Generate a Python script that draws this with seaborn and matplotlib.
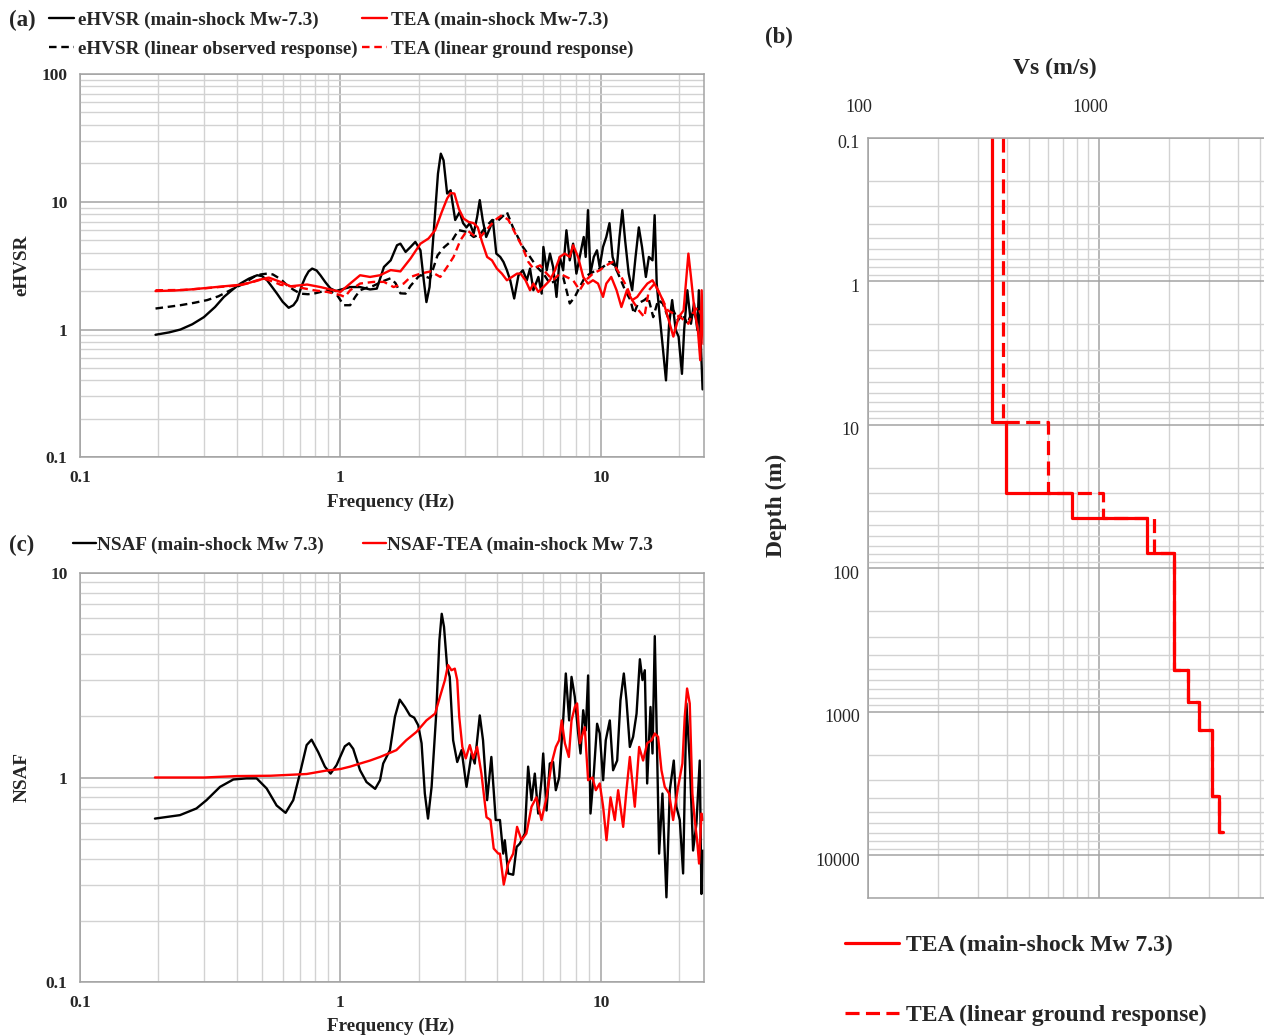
import numpy as np
import matplotlib
matplotlib.use("Agg")
import matplotlib.pyplot as plt
import seaborn as sns
from matplotlib.ticker import FixedLocator, FixedFormatter, LogLocator, NullFormatter
from matplotlib.lines import Line2D
from matplotlib.transforms import ScaledTranslation

# ---------------- (a) spectral ratios ----------------
freq_ehvsr_main = [0.195, 0.22, 0.243, 0.27, 0.299, 0.33, 0.357, 0.385, 0.413, 0.445,
                   0.479, 0.50, 0.523, 0.547, 0.571, 0.60, 0.633, 0.66, 0.682, 0.71,
                   0.734, 0.755, 0.779, 0.81, 0.838, 0.875, 0.915, 0.96, 1.0, 1.09,
                   1.19, 1.30, 1.38, 1.47, 1.56, 1.65, 1.70, 1.78, 1.86, 1.94,
                   2.03, 2.09, 2.14, 2.20, 2.28, 2.37, 2.43, 2.49, 2.57, 2.65,
                   2.76, 2.87, 2.96, 3.05, 3.14, 3.25, 3.35, 3.43, 3.52, 3.63,
                   3.76, 3.85, 3.97, 4.11, 4.23, 4.36, 4.49, 4.65, 4.83, 5.02,
                   5.20, 5.35, 5.51, 5.76, 5.93, 6.02, 6.20, 6.38, 6.56, 6.76,
                   6.96, 7.17, 7.38, 7.60, 7.83, 8.06, 8.30, 8.60, 8.75, 8.93,
                   9.12, 9.40, 9.67, 9.90, 10.2, 10.5, 10.8, 11.1, 11.5, 11.8,
                   12.1, 12.4, 12.8, 13.2, 13.6, 14.0, 14.4, 14.9, 15.3, 15.8,
                   16.1, 16.4, 16.8, 17.3, 17.8, 18.3, 18.8, 19.4, 19.9, 20.5,
                   20.9, 21.5, 22.2, 22.8, 23.5, 23.8, 24.6]
ehvsr_main = [0.91, 0.95, 1.00, 1.10, 1.25, 1.50, 1.80, 2.05, 2.29, 2.50,
              2.66, 2.62, 2.43, 2.15, 1.91, 1.65, 1.48, 1.55, 1.70, 2.20,
              2.58, 2.85, 3.00, 2.90, 2.66, 2.35, 2.10, 2.00, 2.05, 2.15,
              2.15, 2.06, 2.09, 3.09, 3.48, 4.57, 4.70, 4.05, 4.43, 4.85,
              4.17, 2.43, 1.64, 2.15, 5.64, 16.6, 23.8, 21.1, 11.6, 12.3,
              7.2, 8.3, 6.8, 6.3, 6.8, 5.64, 7.6, 10.3, 7.2, 5.3,
              6.3, 7.2, 3.93, 3.70, 3.38, 2.91, 2.43, 1.75, 2.66, 2.91,
              2.43, 3.00, 2.03, 2.58, 1.91, 4.43, 2.91, 3.93, 3.09, 1.80,
              3.70, 2.91, 5.98, 3.48, 4.70, 2.74, 3.70, 5.30, 3.70, 8.60,
              2.74, 3.70, 4.17, 3.09, 4.43, 5.30, 6.80, 3.70, 2.91, 5.30,
              8.60, 5.00, 2.74, 2.03, 3.70, 6.30, 4.43, 2.58, 3.70, 3.48,
              7.85, 2.29, 1.33, 0.73, 0.40, 1.11, 1.70, 0.99, 0.88, 0.45,
              0.99, 2.03, 1.11, 1.60, 0.99, 2.03, 0.34]

freq_ehvsr_linear = [0.195, 0.243, 0.275, 0.308, 0.34, 0.367, 0.39, 0.413, 0.44, 0.465,
                     0.495, 0.523, 0.55, 0.571, 0.60, 0.624, 0.66, 0.702, 0.75, 0.79,
                     0.84, 0.889, 0.93, 0.971, 1.03, 1.09, 1.14, 1.19, 1.26, 1.34,
                     1.45, 1.56, 1.63, 1.70, 1.78, 1.86, 1.99, 2.03, 2.12, 2.21,
                     2.36, 2.50, 2.69, 2.84, 3.07, 3.25, 3.45, 3.65, 3.83, 4.0,
                     4.23, 4.36, 4.6, 5.02, 5.35, 5.68, 6.02, 6.38, 6.76, 7.17,
                     7.6, 7.95, 8.3, 8.7, 9.1, 9.6, 10.2, 10.8, 11.3, 11.8,
                     12.4, 13.0, 13.4, 13.9, 14.7, 15.2, 15.9, 16.6, 17.3, 18.1,
                     19.0, 19.8, 20.6, 21.5, 22.5, 23.5, 24.6]
ehvsr_linear = [1.46, 1.55, 1.62, 1.70, 1.82, 1.97, 2.10, 2.22, 2.40, 2.58,
                2.70, 2.74, 2.70, 2.58, 2.40, 2.22, 2.05, 1.91, 1.89, 1.91,
                1.97, 2.03, 1.96, 1.86, 1.55, 1.55, 1.80, 2.03, 2.12, 2.20,
                2.38, 2.52, 2.30, 1.92, 1.91, 2.2, 2.58, 2.66, 2.60, 2.52,
                3.80, 4.4, 5.0, 6.0, 5.8, 5.3, 5.6, 6.5, 7.2, 7.0,
                7.8, 8.3, 6.3, 4.43, 3.70, 3.09, 2.74, 2.29, 2.43, 2.58,
                1.60, 1.80, 2.15, 2.58, 2.74, 2.91, 3.09, 3.38, 3.18, 2.58,
                2.03, 1.70, 1.33, 1.60, 1.70, 1.80, 1.25, 1.70, 1.60, 1.25,
                1.41, 1.18, 1.33, 1.11, 1.41, 1.18, 1.25]

freq_tea_main = [0.195, 0.23, 0.266, 0.31, 0.357, 0.413, 0.45, 0.479, 0.531, 0.56,
                 0.589, 0.643, 0.70, 0.745, 0.838, 0.943, 1.0, 1.09, 1.19, 1.30,
                 1.42, 1.56, 1.70, 1.86, 2.03, 2.18, 2.31, 2.45, 2.57, 2.65,
                 2.74, 2.85, 2.97, 3.11, 3.25, 3.37, 3.50, 3.66, 3.82, 3.99,
                 4.17, 4.36, 4.56, 4.77, 4.92, 5.14, 5.35, 5.51, 5.76, 6.02,
                 6.38, 6.67, 6.96, 7.27, 7.60, 7.83, 8.18, 8.56, 8.93, 9.33,
                 9.76, 10.2, 10.5, 10.97, 11.5, 12.0, 12.6, 13.2, 13.8, 14.4,
                 15.1, 15.8, 16.6, 17.3, 18.1, 19.0, 19.9, 20.8, 21.7, 22.2,
                 22.9, 23.6, 24.1, 24.4, 24.8]
tea_main = [2.00, 2.02, 2.06, 2.12, 2.18, 2.24, 2.33, 2.43, 2.55, 2.45,
            2.36, 2.18, 2.22, 2.25, 2.15, 2.03, 1.97, 2.29, 2.66, 2.58,
            2.66, 2.92, 2.85, 3.60, 4.70, 5.16, 5.98, 8.30, 10.6, 11.7,
            11.6, 8.80, 7.40, 6.95, 6.80, 6.30, 4.85, 3.70, 3.48, 3.00,
            2.74, 2.43, 2.58, 2.74, 2.74, 2.43, 2.03, 2.29, 1.97, 2.15,
            2.43, 2.91, 3.70, 3.93, 3.70, 4.57, 3.70, 2.58, 2.29, 2.43,
            2.29, 1.80, 2.29, 2.58, 2.03, 1.50, 2.03, 1.70, 1.80, 2.03,
            2.29, 2.43, 2.03, 1.70, 1.25, 0.88, 1.25, 1.41, 3.93, 2.58,
            1.41, 0.99, 0.575, 2.03, 0.77]

freq_tea_linear = [0.195, 0.25, 0.30, 0.35, 0.413, 0.46, 0.508, 0.55, 0.589, 0.682,
                   0.79, 0.889, 1.0, 1.04, 1.09, 1.19, 1.34, 1.47, 1.60, 1.75,
                   1.86, 2.03, 2.22, 2.42, 2.57, 2.72, 2.89, 3.07, 3.25, 3.45,
                   3.71, 3.93, 4.17, 4.42, 4.63, 4.77, 5.0, 5.27, 5.51, 5.85,
                   6.2, 6.56, 6.96, 7.38, 7.83, 8.3, 8.75, 9.33, 9.9, 10.5,
                   11.1, 11.8, 12.6, 13.2, 14.0, 14.7, 15.3, 16.1, 16.8, 18.1,
                   19.1, 20.2, 21.7, 22.5, 23.6, 24.2, 24.8]
tea_linear = [2.03, 2.04, 2.10, 2.16, 2.22, 2.35, 2.50, 2.38, 2.24, 2.15,
              2.03, 1.97, 1.86, 1.80, 2.03, 2.29, 2.36, 2.36, 2.15, 2.29,
              2.58, 2.74, 2.85, 2.58, 3.09, 3.70, 5.00, 5.98, 5.46, 5.30,
              6.30, 7.20, 7.85, 7.20, 5.98, 5.30, 4.43, 3.38, 3.00, 3.18,
              2.74, 2.43, 2.74, 2.58, 2.43, 2.03, 2.43, 2.74, 2.91, 3.18,
              3.38, 2.74, 2.15, 1.70, 1.41, 1.25, 2.03, 2.29, 1.91, 1.41,
              1.33, 1.25, 1.11, 1.33, 1.50, 1.33, 1.18]

# ---------------- (b) shear-wave velocity profile ----------------
layer_top_depth = [0.1, 9.5, 30, 45, 78, 512, 860, 1343, 3865, 6920]
vs_tea_main = [345, 395, 762, 1607, 2118, 2427, 2702, 3083, 3320, 3450]
vs_tea_linear = [384, 603, 1045, 1730, 2118, 2427, 2702, 3083, 3320, 3450]

# ---------------- (c) site amplification ----------------
freq_nsaf = [0.194, 0.242, 0.28, 0.306, 0.345, 0.388, 0.436, 0.477, 0.521, 0.569,
             0.616, 0.659, 0.699, 0.742, 0.775, 0.822, 0.872, 0.917, 0.967, 1.04,
             1.08, 1.12, 1.19, 1.26, 1.36, 1.42, 1.46, 1.55, 1.62, 1.69,
             1.77, 1.85, 1.92, 1.99, 2.05, 2.11, 2.17, 2.24, 2.33, 2.40,
             2.45, 2.50, 2.57, 2.63, 2.71, 2.81, 2.92, 3.05, 3.19, 3.28,
             3.43, 3.53, 3.66, 3.80, 3.95, 4.10, 4.22, 4.28, 4.41, 4.61,
             4.75, 4.89, 5.11, 5.26, 5.42, 5.58, 5.75, 5.92, 6.01, 6.19,
             6.37, 6.56, 6.72, 6.92, 7.17, 7.34, 7.56, 7.72, 7.95, 8.19,
             8.36, 8.56, 8.76, 8.94, 9.13, 9.40, 9.68, 9.91, 10.21, 10.45,
             10.83, 11.15, 11.56, 11.90, 12.26, 12.55, 12.93, 13.31, 13.72, 14.13,
             14.46, 14.76, 15.07, 15.52, 15.80, 16.12, 16.46, 16.75, 17.25, 17.87,
             18.41, 19.07, 19.52, 20.11, 20.71, 21.33, 21.96, 22.62, 23.30, 23.99,
             24.35, 24.71]
nsaf = [0.63, 0.655, 0.706, 0.775, 0.90, 0.978, 0.99, 0.99, 0.884, 0.73,
        0.672, 0.775, 1.045, 1.44, 1.53, 1.33, 1.13, 1.045, 1.15, 1.42,
        1.47, 1.38, 1.085, 0.95, 0.88, 0.97, 1.17, 1.36, 1.98, 2.40,
        2.21, 2.01, 1.96, 1.80, 1.47, 0.835, 0.63, 0.90, 1.98, 4.67,
        6.30, 5.44, 3.46, 3.10, 1.52, 1.19, 1.36, 0.90, 1.31, 1.17,
        2.01, 1.52, 0.775, 1.26, 0.62, 0.62, 0.425, 0.494, 0.34, 0.335,
        0.458, 0.476, 0.533, 1.13, 0.775, 1.045, 0.667, 0.97, 1.31, 0.69,
        1.17, 1.19, 0.867, 1.00, 1.90, 3.22, 1.90, 3.10, 2.47, 1.64,
        1.31, 2.13, 1.70, 3.15, 0.667, 1.045, 1.83, 1.64, 0.97, 1.52,
        1.90, 1.085, 1.21, 2.38, 3.22, 2.38, 1.41, 1.58, 2.05, 3.78,
        2.99, 3.34, 0.935, 2.21, 1.31, 4.90, 1.31, 0.425, 0.835, 0.26,
        0.867, 1.21, 0.72, 0.62, 0.34, 2.30, 1.21, 0.44, 0.596, 1.21,
        0.27, 0.44]

freq_nsaf_tea = [0.194, 0.30, 0.40, 0.54, 0.742, 0.88, 1.0, 1.09, 1.19, 1.30,
                 1.42, 1.53, 1.64, 1.79, 1.96, 2.14, 2.31, 2.41, 2.52, 2.59,
                 2.67, 2.75, 2.81, 2.86, 2.94, 3.03, 3.14, 3.24, 3.35, 3.48,
                 3.64, 3.77, 3.88, 4.04, 4.10, 4.24, 4.41, 4.61, 4.77, 4.96,
                 5.18, 5.42, 5.66, 5.92, 6.19, 6.47, 6.72, 6.92, 7.08, 7.28,
                 7.54, 7.72, 7.95, 8.11, 8.31, 8.68, 8.94, 9.29, 9.57, 9.91,
                 10.21, 10.52, 10.90, 11.32, 11.66, 12.19, 12.55, 12.93, 13.51, 14.04,
                 14.54, 15.07, 15.66, 16.12, 16.60, 17.10, 17.61, 18.30, 18.96, 19.81,
                 20.58, 21.01, 21.45, 21.96, 22.48, 22.95, 23.44, 23.85, 24.35, 24.71]
nsaf_tea = [1.00, 1.00, 1.016, 1.02, 1.04, 1.08, 1.10, 1.13, 1.17, 1.21,
            1.26, 1.31, 1.36, 1.52, 1.67, 1.90, 2.05, 2.47, 2.99, 3.54,
            3.34, 3.40, 2.99, 1.98, 1.41, 1.24, 1.44, 1.24, 1.41, 1.045,
            0.64, 0.62, 0.45, 0.425, 0.425, 0.30, 0.38, 0.425, 0.574, 0.494,
            0.533, 0.72, 0.80, 0.62, 0.80, 1.17, 1.41, 1.52, 1.90, 1.47,
            1.26, 1.90, 2.21, 2.30, 1.47, 1.76, 0.97, 1.00, 0.867, 0.935,
            0.72, 0.494, 0.80, 0.62, 0.867, 0.574, 0.867, 1.26, 0.72, 1.41,
            1.21, 1.47, 1.52, 1.64, 1.58, 1.085, 0.90, 0.835, 0.62, 0.90,
            1.17, 1.98, 2.72, 2.30, 0.835, 0.62, 0.494, 0.38, 0.667, 0.62]

# ---------------- styling ----------------
sns.set_style("white")
plt.rcParams["font.family"] = ["Liberation Serif", "DejaVu Serif"]

W, H = 1264, 1036
DPI = 100
MAJOR = "#a3a3a3"
MINOR = "#d2d2d2"
RED = "#ff0000"
DASH_A = (0, (3.2, 2.0))
DASH_B = (0, (4.4, 2.0))

fig = plt.figure(figsize=(W / DPI, H / DPI), dpi=DPI)


def rect(left, top, right, bottom):
    return [left / W, 1 - bottom / H, (right - left) / W, (bottom - top) / H]


def log_frame(ax, xlim, ylim, xticks, yticks):
    ax.set_xscale("log")
    ax.set_yscale("log")
    ax.set_xlim(*xlim)
    ax.set_ylim(*ylim)
    ax.xaxis.set_major_locator(FixedLocator(xticks))
    ax.xaxis.set_major_formatter(FixedFormatter([f"{t:g}" for t in xticks]))
    ax.yaxis.set_major_locator(FixedLocator(yticks))
    ax.yaxis.set_major_formatter(FixedFormatter([f"{t:g}" for t in yticks]))
    for axis in (ax.xaxis, ax.yaxis):
        axis.set_minor_locator(LogLocator(base=10, subs=np.arange(2, 10), numticks=100))
        axis.set_minor_formatter(NullFormatter())
    ax.grid(True, which="major", color=MAJOR, lw=1.1)
    ax.grid(True, which="minor", color=MINOR, lw=1.0)
    ax.set_axisbelow(True)
    for s in ax.spines.values():
        s.set_color(MAJOR)
        s.set_linewidth(1.1)
    ax.tick_params(which="minor", length=0)


def curve(ax, x, y, color, ls="-", lw=1.7):
    sns.lineplot(x=x, y=y, ax=ax, color=color, linestyle=ls, linewidth=lw,
                 estimator=None, sort=False, legend=False)


def bold_ticks(ax):
    for lbl in ax.get_xticklabels() + ax.get_yticklabels():
        lbl.set_fontweight("bold")


# ---------- panel (a) ----------
ax_a = fig.add_axes(rect(80.0, 74.0, 704.4, 457.3))
log_frame(ax_a, (0.1, 25), (0.1, 100), [0.1, 1, 10], [0.1, 1, 10, 100])
curve(ax_a, freq_ehvsr_main, ehvsr_main, "black")
curve(ax_a, freq_ehvsr_linear, ehvsr_linear, "black", DASH_A)
curve(ax_a, freq_tea_main, tea_main, RED)
curve(ax_a, freq_tea_linear, tea_linear, RED, DASH_A)
ax_a.tick_params(which="major", length=3, width=1, color=MAJOR, labelsize=12.5, pad=6)
bold_ticks(ax_a)
ax_a.set_xlabel("Frequency (Hz)", fontsize=13.8, fontweight="bold")
ax_a.set_ylabel("eHVSR", fontsize=13.8, fontweight="bold")
ax_a.xaxis.set_label_coords(0.497, -(494 - 457.3) / 383.3)
ax_a.yaxis.set_label_coords((30 - 80) / 624.4, 0.5)

# ---------- panel (c) ----------
ax_c = fig.add_axes(rect(80.0, 572.7, 704.4, 982.3))
log_frame(ax_c, (0.1, 25), (0.1, 10), [0.1, 1, 10], [0.1, 1, 10])
curve(ax_c, freq_nsaf, nsaf, "black")
curve(ax_c, freq_nsaf_tea, nsaf_tea, RED)
ax_c.tick_params(which="major", length=3, width=1, color=MAJOR, labelsize=12.5, pad=6)
bold_ticks(ax_c)
ax_c.set_xlabel("Frequency (Hz)", fontsize=13.8, fontweight="bold")
ax_c.set_ylabel("NSAF", fontsize=13.8, fontweight="bold")
ax_c.xaxis.set_label_coords(0.497, -(1018 - 982.3) / 409.6)
ax_c.yaxis.set_label_coords((31 - 80) / 624.4, 0.5)

# ---------- panel (b) ----------
ax_b = fig.add_axes(rect(868.0, 137.7, 1330.0, 898.4))
log_frame(ax_b, (100, 10000), (20000, 0.1), [100, 1000],
          [0.1, 1, 10, 100, 1000, 10000])
ax_b.xaxis.tick_top()
ax_b.xaxis.set_label_position("top")

# step profiles: each layer is a vertical run followed by a jump at its base
step_depth = [layer_top_depth[0]]
step_vs_main = [vs_tea_main[0]]
step_vs_linear = [vs_tea_linear[0]]
for i in range(1, len(layer_top_depth)):
    step_depth += [layer_top_depth[i], layer_top_depth[i]]
    step_vs_main += [vs_tea_main[i - 1], vs_tea_main[i]]
    step_vs_linear += [vs_tea_linear[i - 1], vs_tea_linear[i]]

curve(ax_b, step_vs_linear, step_depth, RED, DASH_B, lw=2.3)
curve(ax_b, step_vs_main, step_depth, RED, "-", lw=2.3)
ax_b.tick_params(axis="x", which="major", length=0, labelsize=13, pad=15.5)
ax_b.tick_params(axis="y", which="major", length=0, labelsize=13, pad=6)
ax_b.set_xlabel("Vs (m/s)", fontsize=17, fontweight="bold")
ax_b.set_ylabel("Depth (m)", fontsize=17, fontweight="bold")
ax_b.xaxis.set_label_coords((1055 - 868) / 462.0, 1 + (137.7 - 74) / 760.7)
ax_b.yaxis.set_label_coords((787 - 868) / 462.0, 1 - (505 - 137.7) / 760.7)
for t in ax_b.xaxis.get_major_ticks():
    t.label2.set_transform(t.label2.get_transform()
                           + ScaledTranslation(-9 / DPI, 0, fig.dpi_scale_trans))
for t in ax_b.yaxis.get_major_ticks():
    t.label1.set_transform(t.label1.get_transform()
                           + ScaledTranslation(0, -4 / DPI, fig.dpi_scale_trans))

# ---------- legends ----------
leg_a = fig.legend(
    [Line2D([], [], color="black", lw=1.7),
     Line2D([], [], color="black", lw=1.7, ls=DASH_A),
     Line2D([], [], color=RED, lw=1.7),
     Line2D([], [], color=RED, lw=1.7, ls=DASH_A)],
    ["eHVSR (main-shock Mw-7.3)", "eHVSR (linear observed response)",
     "TEA (main-shock Mw-7.3)", "TEA (linear ground response)"],
    ncol=2, loc="center left", bbox_to_anchor=(49 / W, 1 - 34.5 / H),
    frameon=False, prop=dict(weight="bold", size=13.8),
    handlelength=1.3, handletextpad=0.23, columnspacing=0.2,
    labelspacing=0.6, borderpad=0, borderaxespad=0)

leg_c = fig.legend(
    [Line2D([], [], color="black", lw=1.7), Line2D([], [], color=RED, lw=1.7)],
    ["NSAF (main-shock Mw 7.3)", "NSAF-TEA (main-shock Mw 7.3"],
    ncol=2, loc="center left", bbox_to_anchor=(72.7 / W, 1 - 545 / H),
    frameon=False, prop=dict(weight="bold", size=13.8),
    handlelength=1.2, handletextpad=0.05, columnspacing=2.07,
    borderpad=0, borderaxespad=0)

leg_b = fig.legend(
    [Line2D([], [], color=RED, lw=2.3), Line2D([], [], color=RED, lw=2.3, ls=DASH_B)],
    ["TEA (main-shock Mw 7.3)", "TEA (linear ground response)"],
    loc="center left", bbox_to_anchor=(845 / W, 1 - 980.5 / H),
    frameon=False, prop=dict(weight="bold", size=17),
    handlelength=2.3, handletextpad=0.3, labelspacing=2.05,
    borderpad=0, borderaxespad=0)

# ---------- panel letters ----------
fig.text(9 / W, 1 - 20 / H, "(a)", fontsize=16.5, fontweight="bold", va="center")
fig.text(765 / W, 1 - 37 / H, "(b)", fontsize=16.5, fontweight="bold", va="center")
fig.text(9 / W, 1 - 545 / H, "(c)", fontsize=16.5, fontweight="bold", va="center")

fig.savefig("out.png", dpi=DPI)
